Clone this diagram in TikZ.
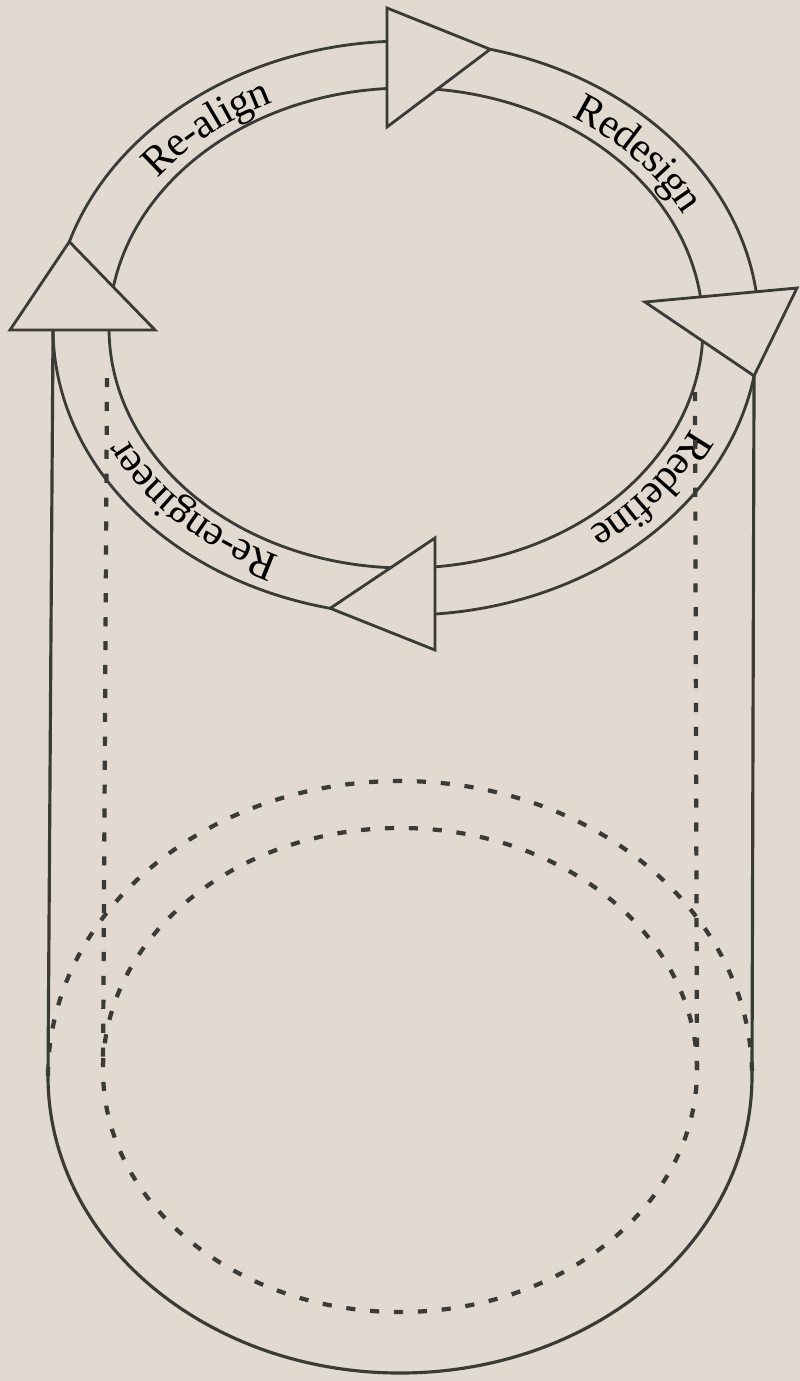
\documentclass[tikz,border=0pt]{standalone}
\usepackage{fontspec}
\setmainfont{Liberation Serif}
\usetikzlibrary{decorations.text}
\definecolor{paper}{RGB}{226,217,208}
\definecolor{ink}{RGB}{58,58,54}

\begin{document}
\begin{tikzpicture}[
    x=0.01cm, y=0.01cm,
    band/.style={draw=ink,line width=0.8pt},
    head/.style={draw=ink,line width=0.8pt,line join=miter},
    wall/.style={draw=ink,line width=0.9pt},
    hidden/.style={draw=ink,line width=1.2pt,dash pattern=on 2.6pt off 4.2pt},
    lbl/.style={decorate,decoration={text along path,text align=center,
                raise=-4pt,text color=black,text={|\fontsize{12}{14}\selectfont|#1}}}
]
  \fill[paper] (0,0) rectangle (800,-1381);
  \useasboundingbox (0,0) rectangle (800,-1381);

  \coordinate (ring) at (406,-328);
  \coordinate (cyl) at (400,-1076);

  % Arrow heads
  \coordinate (tipL) at ([shift={(162.5:353 and 287)}]ring);
  \coordinate (tipT) at ([shift={(76.2:353 and 287)}]ring);
  \coordinate (tipR) at ([shift={(-9.6:353 and 287)}]ring);
  \coordinate (tipB) at ([shift={(-102.4:353 and 287)}]ring);
  \draw[head] (10,-330) -- (155,-330) -- (tipL) -- cycle;
  \draw[head] (387,-8) -- (tipT) -- (387,-127) -- cycle;
  \draw[head] (645,-302) -- (797,-288) -- (tipR) -- cycle;
  \draw[head] (435,-538) -- (435,-650) -- (tipB) -- cycle;

  % Bands
  \draw[band] (tipL) arc[start angle=162.5,end angle=93.08,x radius=353,y radius=287];
  \draw[band] ([shift={(170:297 and 240)}]ring) arc[start angle=170,end angle=93.67,x radius=297,y radius=240];
  \draw[band] (tipT) arc[start angle=76.2,end angle=7.3,x radius=353,y radius=287];
  \draw[band] ([shift={(84:297 and 240)}]ring) arc[start angle=84,end angle=7.4,x radius=297,y radius=240];
  \draw[band] (tipR) arc[start angle=-9.6,end angle=-85.29,x radius=353,y radius=287];
  \draw[band] ([shift={(-3.2:297 and 240)}]ring) arc[start angle=-3.2,end angle=-84.4,x radius=297,y radius=240];
  \draw[band] (tipB) arc[start angle=-102.4,end angle=-179.6,x radius=353,y radius=287]
    coordinate (engOut);
  \draw[band] ([shift={(-93:297 and 240)}]ring) arc[start angle=-93,end angle=-179.5,x radius=297,y radius=240];

  % Labels
  \path[lbl=Re-align] ([shift={(160:325 and 263.5)}]ring) arc[start angle=160,end angle=100,x radius=325,y radius=263.5];
  \path[lbl=Redesign] ([shift={(71.5:325 and 263.5)}]ring) arc[start angle=71.5,end angle=11.5,x radius=325,y radius=263.5];
  \path[lbl=Redefine] ([shift={(-8:325 and 263.5)}]ring) arc[start angle=-8,end angle=-68,x radius=325,y radius=263.5];
  \path[lbl=Re-engineer] ([shift={(-100:325 and 263.5)}]ring) arc[start angle=-100,end angle=-170,x radius=325,y radius=263.5];

  % Cylinder
  \draw[wall] (engOut) -- (48,-1076) arc[start angle=180,end angle=360,x radius=352,y radius=297] -- (tipR);
  \draw[hidden] ([shift={(180:352 and 295)}]cyl) arc[start angle=180,end angle=0,x radius=352,y radius=295];
  \draw[hidden] (400,-1070) ellipse[x radius=297,y radius=242];
  \draw[hidden] (107,-378) -- (103,-1070);
  \draw[hidden] (695,-392) -- (697,-1070);
\end{tikzpicture}
\end{document}
